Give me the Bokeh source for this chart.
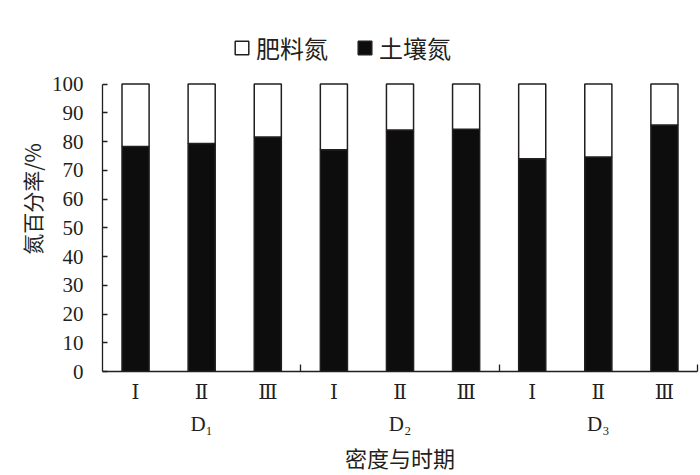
from bokeh.plotting import figure
from bokeh.models import (Range1d, FixedTicker, LinearAxis, Legend, LegendItem,
                          ColumnDataSource)
from bokeh.embed import file_html
from bokeh.resources import INLINE

# ---- data ----
densities = ["D₁", "D₂", "D₃"]
periods = ["Ⅰ", "Ⅱ", "Ⅲ"]
soil_n = [78.3, 79.3, 81.6, 77.1, 84.0, 84.3, 74.0, 74.6, 85.7]   # 土壤氮 %
fert_n = [21.7, 20.7, 18.4, 22.9, 16.0, 15.7, 26.0, 25.4, 14.3]   # 肥料氮 %
y_ticks = [0, 10, 20, 30, 40, 50, 60, 70, 80, 90, 100]

n_per = len(periods)
n_cat = len(densities) * n_per
xs = [i + 1 for i in range(n_cat)]
src = ColumnDataSource(dict(x=xs, soil=soil_n, fert=fert_n))

INK = "#231f20"
CJK = "Noto Sans CJK SC"
SERIF = "Liberation Serif"

# y range leaves room above 100 for the legend; the axis itself stops at 100
p = figure(width=700, height=475, output_backend="svg", toolbar_location=None,
           x_range=Range1d(0.5, n_cat + 0.5), y_range=Range1d(0, 120),
           min_border_left=102, min_border_right=3, min_border_top=26,
           min_border_bottom=102, x_axis_location=None, y_axis_location=None)
p.outline_line_color = None
p.xgrid.visible = False
p.ygrid.visible = False

rs = p.vbar_stack(["soil", "fert"], x="x", width=0.41, source=src,
                  fill_color=["#0d0d0d", "white"], line_color=INK, line_width=1.5)

# y axis
yax = LinearAxis(ticker=FixedTicker(ticks=y_ticks), bounds=(0, 100))
yax.axis_label = "氮百分率/%"
yax.axis_label_text_font = CJK
yax.axis_label_text_font_size = "21px"
yax.axis_label_text_font_style = "normal"
yax.axis_label_text_color = INK
yax.axis_label_standoff = 2
yax.major_label_text_font = SERIF
yax.major_label_text_font_size = "21px"
yax.major_label_text_color = INK
yax.major_label_standoff = 19
yax.major_tick_in = 5
yax.major_tick_out = 0
yax.minor_tick_line_color = None
yax.axis_line_color = INK
yax.axis_line_width = 1.3
yax.major_tick_line_color = INK
yax.major_tick_line_width = 1.3
p.add_layout(yax, "left")

# x axis: period labels + group separator ticks
bounds = [n_per * (g + 1) + 0.5 for g in range(len(densities))]
xax = LinearAxis(ticker=FixedTicker(ticks=xs, minor_ticks=bounds))
xax.major_label_overrides = {x: periods[i % n_per] for i, x in enumerate(xs)}
xax.major_label_text_font = "DejaVu Serif"
xax.major_label_text_font_size = "20px"
xax.major_label_text_color = INK
xax.major_label_standoff = 2
xax.major_tick_line_color = None
xax.minor_tick_in = 7
xax.minor_tick_out = 0
xax.minor_tick_line_color = INK
xax.minor_tick_line_width = 1.3
xax.axis_line_color = INK
xax.axis_line_width = 1.3
p.add_layout(xax, "below")

# x axis: density labels + title
mids = [n_per * g + (n_per + 1) / 2 for g in range(len(densities))]
dax = LinearAxis(ticker=FixedTicker(ticks=mids, minor_ticks=[]))
dax.major_label_overrides = {m: densities[i] for i, m in enumerate(mids)}
dax.major_label_text_font = SERIF
dax.major_label_text_font_size = "21px"
dax.major_label_text_color = INK
dax.major_label_standoff = -1
dax.major_tick_line_color = None
dax.minor_tick_line_color = None
dax.axis_line_color = None
dax.axis_label = "密度与时期"
dax.axis_label_text_font = CJK
dax.axis_label_text_font_size = "22px"
dax.axis_label_text_font_style = "normal"
dax.axis_label_text_color = INK
dax.axis_label_standoff = 2
p.add_layout(dax, "below")

legend = Legend(items=[LegendItem(label="肥料氮", renderers=[rs[1]]),
                       LegendItem(label="土壤氮", renderers=[rs[0]])],
                orientation="horizontal", location=(131, 306),
                glyph_width=17, glyph_height=17, label_standoff=6, spacing=28,
                padding=0, margin=0, border_line_color=None,
                background_fill_alpha=0,
                label_text_font=CJK, label_text_font_size="24px",
                label_text_color=INK)
p.add_layout(legend, "center")

open("out.html", "w").write(file_html(p, INLINE))
